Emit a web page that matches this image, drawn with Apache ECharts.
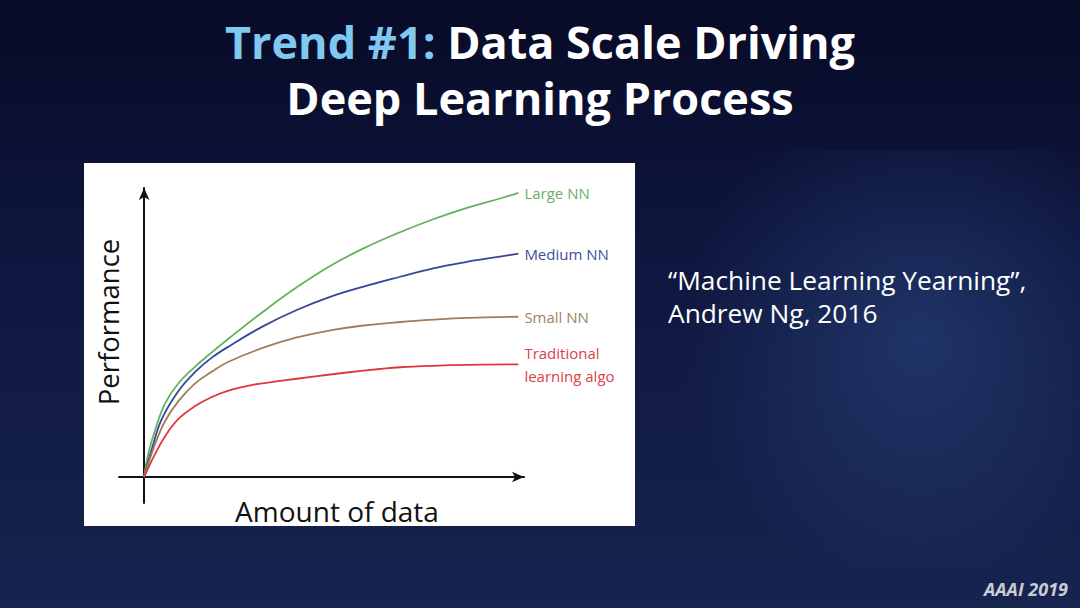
<!DOCTYPE html>
<html>
<head>
<meta charset="utf-8">
<script src="https://cdn.jsdelivr.net/npm/echarts@6/dist/echarts.min.js"></script>
<style>
html,body{margin:0;padding:0;background:#0c1130;}
#chart{width:1080px;height:608px;}
</style>
</head>
<body>
<div id="chart"></div>
<script>
// ---- data (x = amount of data, y = performance; both on a 0-100 scale) ----
var seriesNames = ['Large NN', 'Medium NN', 'Small NN', 'Traditional learning algo'];
var endLabels = ['Large NN', 'Medium NN', 'Small NN', 'Traditional\nlearning algo'];
var largeNN = [[0,0],[1.15,8.2],[2.93,16.1],[5.6,25.2],[9.15,32.1],[13.6,37.8],[18.05,42.7],[22.9,47.8],[31.8,56.7],[40.7,65.0],[49.6,72.3],[58.5,78.3],[67.4,83.4],[77.1,88.3],[86.1,92.2],[94.9,95.4],[99.8,97.3]];
var mediumNN = [[0,0],[2.05,9.6],[4.72,19.9],[9.15,29.5],[13.6,36.0],[18.05,40.9],[22.9,45.0],[31.8,51.7],[40.7,57.2],[49.6,61.7],[58.5,65.2],[68.3,68.6],[77.1,71.5],[86.1,73.7],[94.9,75.5],[99.8,76.5]];
var smallNN = [[0,0],[2.93,11.3],[5.6,19.2],[9.15,26.0],[13.6,32.1],[18.05,36.1],[22.5,39.5],[31.8,44.3],[40.7,47.8],[49.6,50.2],[58.5,51.9],[68.3,53.1],[77.1,53.9],[86.1,54.5],[99.8,54.9]];
var traditional = [[0,0],[2.93,7.9],[5.6,14.0],[9.15,19.9],[13.6,24.3],[18.05,27.4],[22.5,29.6],[29.6,31.7],[36.3,32.9],[45.1,34.4],[54.1,35.8],[62.9,37.0],[68.3,37.6],[77.1,38.1],[86.1,38.4],[99.8,38.6]];
var lineColors = ['#62b35a', '#34479a', '#a07c5c', '#e0363c'];
var labelColors = ['#6fae63', '#3c4f98', '#9a8468', '#d9414a'];
var titleLine1a = 'Trend #1:';
var titleLine1b = 'Data Scale Driving';
var titleLine2 = 'Deep Learning Process';
var quoteLines = ['\u201CMachine Learning Yearning\u201D,', 'Andrew Ng, 2016'];
var footer = 'AAAI 2019';
var xName = 'Amount of data';
var yName = 'Performance';

var allData = [largeNN, mediumNN, smallNN, traditional];

var chart = echarts.init(document.getElementById('chart'), null, {renderer: 'svg'});

var series = allData.map(function (d, i) {
  return {
    type: 'line',
    name: seriesNames[i],
    data: d,
    showSymbol: false,
    smooth: 0.4,
    lineStyle: {color: lineColors[i], width: 1.8},
    itemStyle: {color: lineColors[i]},
    z: 5,
    endLabel: {
      show: true,
      formatter: function () { return endLabels[i]; },
      color: labelColors[i],
      fontFamily: 'Open Sans',
      fontSize: 15,
      lineHeight: 23,
      distance: 6
    }
  };
});

var option = {
  backgroundColor: new echarts.graphic.LinearGradient(0, 0, 0, 1, [
    {offset: 0, color: '#080b26'},
    {offset: 0.4, color: '#0e163e'},
    {offset: 1, color: '#17244f'}
  ]),
  animation: false,
  title: [
    {
      text: '{a|' + titleLine1a + '}{b| ' + titleLine1b + '}',
      left: 'center', top: 14,
      textStyle: {
        rich: {
          a: {color: '#7fc9f0', fontFamily: 'Open Sans', fontWeight: 'bold', fontSize: 45},
          b: {color: '#ffffff', fontFamily: 'Open Sans', fontWeight: 'bold', fontSize: 45}
        }
      }
    },
    {
      text: titleLine2,
      left: 'center', top: 70,
      textStyle: {color: '#ffffff', fontFamily: 'Open Sans', fontWeight: 'bold', fontSize: 45}
    }
  ],
  graphic: [
    {
      type: 'rect', z: -10, silent: true,
      shape: {x: 680, y: 150, width: 400, height: 420},
      style: {fill: new echarts.graphic.RadialGradient(0.6, 0.45, 0.6, [
        {offset: 0, color: 'rgba(60,100,170,0.35)'},
        {offset: 1, color: 'rgba(60,100,170,0)'}
      ])}
    },
    {
      type: 'rect', z: -5, silent: true,
      shape: {x: 84, y: 163, width: 551, height: 363},
      style: {fill: '#ffffff'}
    },
    {
      type: 'text', z: 10, left: 668, top: 263,
      style: {text: quoteLines.join('\n'), fill: '#ffffff', font: '26.3px "Open Sans"', lineHeight: 33}
    },
    {
      type: 'text', z: 10, right: 12, top: 580,
      style: {text: footer, fill: '#c9cdd8', font: 'italic bold 18px "Open Sans"'}
    },
    {
      type: 'text', z: 10, x: 108, y: 322, rotation: Math.PI / 2,
      style: {text: yName, fill: '#111111', font: '27.5px "Open Sans"', align: 'center', verticalAlign: 'middle'}
    },
    {
      type: 'text', z: 10, x: 337, y: 511,
      style: {text: xName, fill: '#111111', font: '28px "Open Sans"', align: 'center', verticalAlign: 'middle'}
    }
  ],
  grid: {left: 119, right: 556, top: 188, bottom: 105, containLabel: false},
  xAxis: {
    type: 'value', min: -6.7, max: 101.3,
    axisLine: {show: true, onZero: true, symbol: ['none', 'arrow'], symbolSize: [8, 12], lineStyle: {color: '#111', width: 2}},
    axisTick: {show: false}, axisLabel: {show: false}, splitLine: {show: false}
  },
  yAxis: {
    type: 'value', min: -8.9, max: 99,
    axisLine: {show: true, onZero: true, symbol: ['none', 'arrow'], symbolSize: [8, 12], lineStyle: {color: '#111', width: 2}},
    axisTick: {show: false}, axisLabel: {show: false}, splitLine: {show: false}
  },
  series: series
};
chart.setOption(option);
</script>
</body>
</html>
